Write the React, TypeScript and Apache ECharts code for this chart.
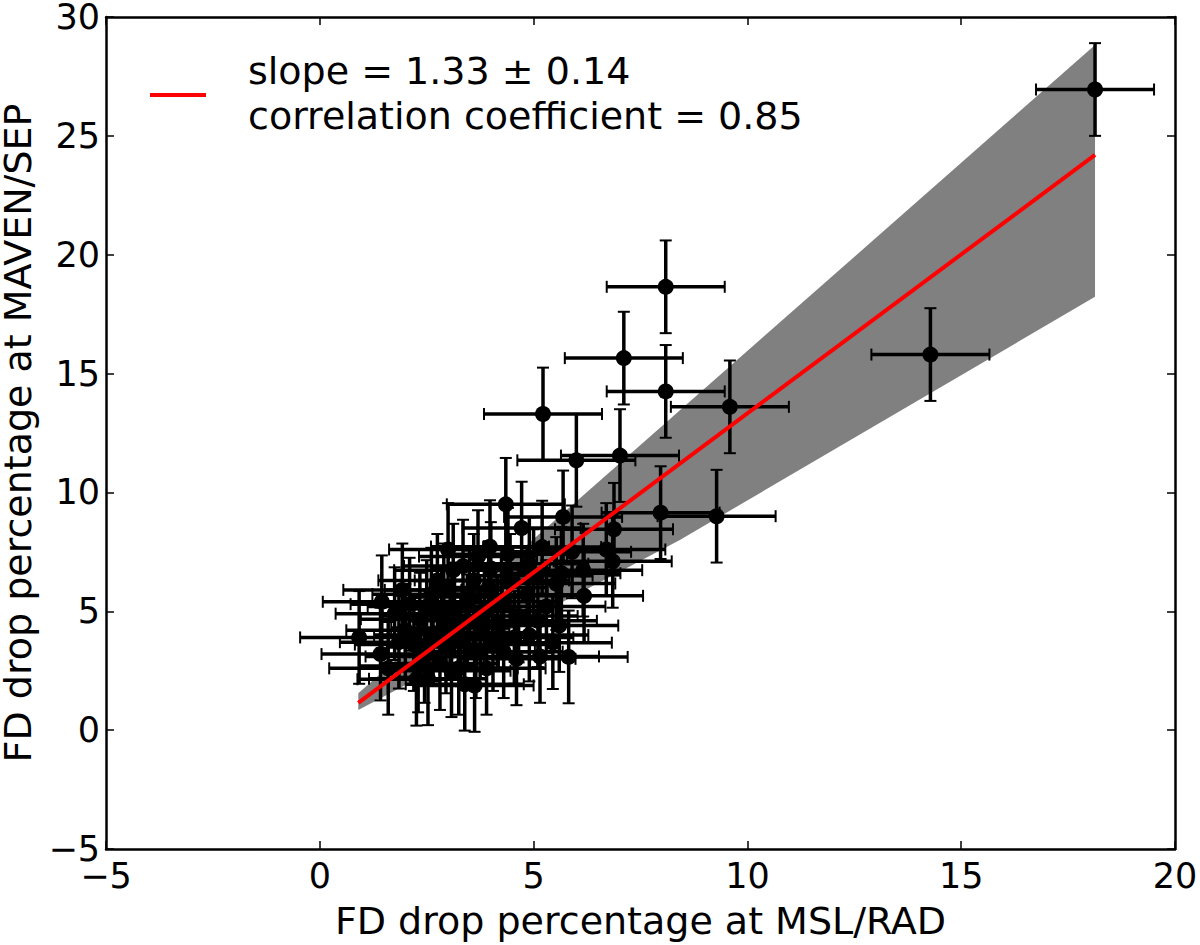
import React, { useEffect, useRef } from "react";
import * as echarts from "echarts";

// Data points (FD drop percentage at MSL/RAD, FD drop percentage at MAVEN/SEP)
const msl = [
  18.13, 14.28, 8.09, 7.11, 8.09, 9.59, 5.22, 7.02, 6.0, 7.97, 9.28, 4.35, 0.92, 1.42, 5.15, 5.82,
  5.45, 6.18, 1.93, 1.45, 4.72, 3.98, 6.88, 6.85, 5.69, 6.7, 3.12, 5.53, 6.16, 2.26, 2.53, 2.81,
  3.08, 3.39, 3.62, 3.25, 2.34, 2.61, 2.0, 2.2, 2.45, 2.65, 2.85, 2.95, 3.05, 3.15, 3.3, 3.45,
  3.5, 3.65, 3.75, 3.85, 3.95, 4.05, 4.15, 4.25, 4.45, 4.55, 4.65, 4.85, 5.0, 5.1, 4.3, 2.75,
  3.35, 3.0, 2.5, 1.75, 1.85, 5.3, 5.65, 5.9, 4.9, 3.7, 4.6, 1.6,
  2.1, 2.9, 3.6, 4.0, 4.4, 5.2, 2.3, 3.9, 4.9, 5.6,
];
const maven = [
  26.95, 15.8, 18.65, 15.65, 14.25, 13.6, 13.3, 11.55, 11.35, 9.15, 9.0, 9.5, 3.9, 3.2, 3.1, 3.08,
  3.68, 5.65, 5.9, 5.4, 8.5, 7.72, 8.45, 7.1, 8.97, 7.6, 6.73, 6.17, 6.73, 2.14, 2.16, 2.8,
  2.5, 1.93, 1.88, 2.6, 4.67, 5.72, 4.2, 3.6, 3.1, 4.0, 4.8, 3.5, 4.3, 5.1, 3.8, 4.6,
  5.6, 3.3, 4.1, 5.0, 6.0, 3.6, 4.5, 5.4, 6.3, 3.9, 4.8, 5.7, 6.5, 4.6, 3.3, 6.3,
  6.9, 7.6, 5.2, 4.9, 3.7, 5.2, 6.6, 7.5, 7.0, 7.3, 3.0, 2.6,
  5.3, 5.9, 6.3, 6.8, 7.4, 7.7, 2.7, 2.6, 4.0, 4.4,
];
const mslErr = 1.38;
const mavenErr = 1.95;

// Linear fit
const fitX = [0.9, 18.13];
const fitY = [1.15, 24.2];

// Uncertainty band
const bandUpperX = [0.9, 18.13];
const bandUpperY = [1.55, 28.82];
const bandLowerX = [18.13, 8.42, 0.9];
const bandLowerY = [18.23, 8.0, 0.85];

// Axes
const xMin = -5, xMax = 20, xStep = 5;
const yMin = -5, yMax = 30, yStep = 5;

const legendLines = ["slope = 1.33 \u00b1 0.14", "correlation coefficient = 0.85"];
const xTitle = "FD drop percentage at MSL/RAD";
const yTitle = "FD drop percentage at MAVEN/SEP";

const FONT = "DejaVu Sans";
const TICK_FS = 35;
const TITLE_FS = 38;
const LEGEND_FS = 38;

const fmt = (v: number) => String(v).replace("-", "\u2212");

export default function App() {
  const ref = useRef<HTMLDivElement>(null);
  useEffect(() => {
    document.body.style.margin = "0";
    const chart = echarts.init(ref.current!, null, { renderer: "svg" });
    const points = msl.map((x, i) => [x, maven[i]]);
    const axisCommon = {
      type: "value" as const,
      splitLine: { show: false },
      axisLine: { show: true, onZero: false, lineStyle: { color: "#000", width: 2.5 } },
      axisTick: { show: true, inside: true, length: 8, lineStyle: { color: "#000", width: 1.5 } },
    };
    chart.setOption({
      animation: false,
      grid: { left: 106, right: 25, top: 17, bottom: 96, containLabel: false, outerBoundsMode: "none" },
      xAxis: [
        {
          ...axisCommon,
          min: xMin, max: xMax, interval: xStep, position: "bottom",
          axisLabel: { formatter: fmt, color: "#000", fontFamily: FONT, fontSize: TICK_FS, lineHeight: 30, margin: 12 },
          name: xTitle, nameLocation: "middle", nameGap: 53,
          nameTextStyle: { color: "#000", fontFamily: FONT, fontSize: TITLE_FS },
        },
        {
          ...axisCommon,
          min: xMin, max: xMax, interval: xStep, position: "top",
          axisLabel: { show: false },
        },
      ],
      yAxis: [
        {
          ...axisCommon,
          min: yMin, max: yMax, interval: yStep, position: "left",
          axisLabel: { formatter: fmt, color: "#000", fontFamily: FONT, fontSize: TICK_FS, lineHeight: 24, margin: 6 },
          name: yTitle, nameLocation: "middle", nameGap: 64, nameRotate: 90,
          nameTextStyle: { color: "#000", fontFamily: FONT, fontSize: TITLE_FS, lineHeight: 40 },
        },
        {
          ...axisCommon,
          min: yMin, max: yMax, interval: yStep, position: "right",
          axisLabel: { show: false },
        },
      ],
      series: [
        {
          type: "custom",
          z: 1,
          silent: true,
          data: [[0, 0]],
          renderItem: (_p: any, api: any) => {
            const pts: number[][] = [];
            bandUpperX.forEach((x, i) => pts.push(api.coord([x, bandUpperY[i]])));
            bandLowerX.forEach((x, i) => pts.push(api.coord([x, bandLowerY[i]])));
            return { type: "polygon", shape: { points: pts }, style: { fill: "#808080", stroke: "none" } };
          },
        },
        {
          type: "custom",
          z: 2,
          silent: true,
          data: points,
          renderItem: (_p: any, api: any) => {
            const x = api.value(0);
            const y = api.value(1);
            const l = api.coord([x - mslErr, y]);
            const r = api.coord([x + mslErr, y]);
            const t = api.coord([x, y + mavenErr]);
            const b = api.coord([x, y - mavenErr]);
            const cap = 6;
            const st = { stroke: "#000", lineWidth: 3.5 };
            const cs = { stroke: "#000", lineWidth: 2 };
            return {
              type: "group",
              children: [
                { type: "line", shape: { x1: l[0], y1: l[1], x2: r[0], y2: r[1] }, style: st },
                { type: "line", shape: { x1: t[0], y1: t[1], x2: b[0], y2: b[1] }, style: st },
                { type: "line", shape: { x1: l[0], y1: l[1] - cap, x2: l[0], y2: l[1] + cap }, style: cs },
                { type: "line", shape: { x1: r[0], y1: r[1] - cap, x2: r[0], y2: r[1] + cap }, style: cs },
                { type: "line", shape: { x1: t[0] - cap, y1: t[1], x2: t[0] + cap, y2: t[1] }, style: cs },
                { type: "line", shape: { x1: b[0] - cap, y1: b[1], x2: b[0] + cap, y2: b[1] }, style: cs },
              ],
            };
          },
        },
        {
          type: "scatter",
          z: 3,
          silent: true,
          data: points,
          symbol: "circle",
          symbolSize: 16,
          itemStyle: { color: "#000", opacity: 1 },
        },
        {
          type: "line",
          z: 4,
          silent: true,
          data: fitX.map((x, i) => [x, fitY[i]]),
          showSymbol: false,
          symbol: "none",
          lineStyle: { color: "#ff0000", width: 4 },
        },
      ],
      graphic: [
        { type: "line", z: 10, shape: { x1: 150, y1: 95, x2: 206, y2: 95 }, style: { stroke: "#ff0000", lineWidth: 4 } },
        {
          type: "text", z: 10, x: 248, y: 71,
          style: { text: legendLines[0], fontFamily: FONT, fontSize: LEGEND_FS, fill: "#000", verticalAlign: "middle" },
        },
        {
          type: "text", z: 10, x: 248, y: 116,
          style: { text: legendLines[1], fontFamily: FONT, fontSize: LEGEND_FS, fill: "#000", verticalAlign: "middle" },
        },
      ],
    });
    return () => chart.dispose();
  }, []);
  return <div ref={ref} style={{ width: 1200, height: 945 }} />;
}
